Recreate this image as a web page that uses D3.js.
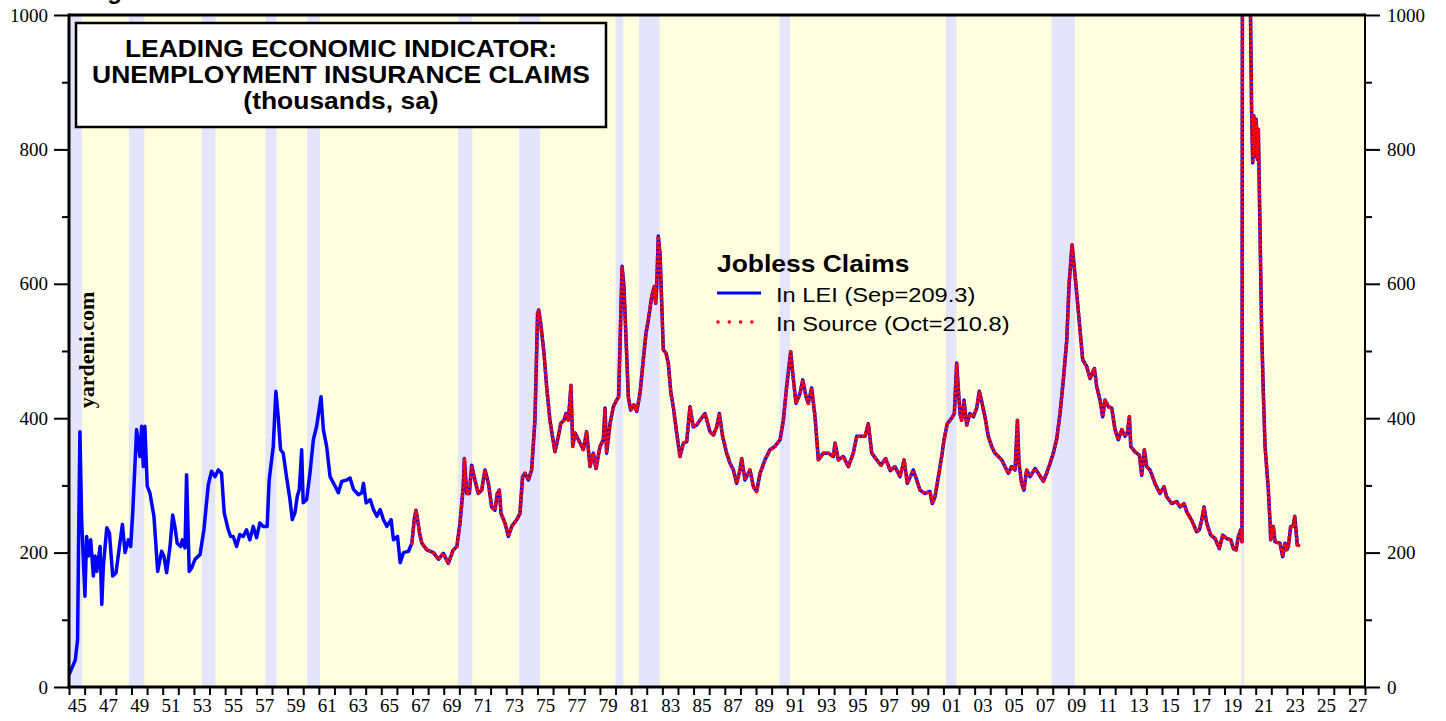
<!DOCTYPE html>
<html>
<head>
<meta charset="utf-8">
<script src="https://cdnjs.cloudflare.com/ajax/libs/d3/7.8.5/d3.min.js"></script>
<style>
body { margin: 0; background: #fff; }
.sans { font-family: "Liberation Sans", Arial, sans-serif; }
</style>
</head>
<body>
<svg id="chart" width="1446" height="721"></svg>
<script>

// decimal year / claims (thousands)
var dates = [
  1945.00,1945.40,1945.55,1945.62,1945.70,1945.81,1946.02,1946.13,1946.24,1946.39,1946.56,1946.67,1946.78,1946.99,
  1947.10,1947.20,1947.42,1947.59,1947.80,1948.01,1948.23,1948.42,1948.59,1948.80,1948.95,1949.08,1949.33,1949.54,
  1949.65,1949.76,1949.86,1950.01,1950.18,1950.44,1950.68,1950.93,1951.08,1951.25,1951.47,1951.64,1951.78,1951.93,
  1952.15,1952.26,1952.43,1952.53,1952.70,1952.85,1953.07,1953.39,1953.64,1953.92,1954.13,1954.35,1954.56,1954.77,
  1954.94,1955.20,1955.35,1955.52,1955.73,1955.94,1956.16,1956.37,1956.58,1956.80,1957.01,1957.22,1957.44,1957.69,
  1957.82,1958.08,1958.25,1958.40,1958.55,1958.72,1958.93,1959.15,1959.30,1959.47,1959.62,1959.75,1959.90,1960.00,
  1960.22,1960.43,1960.65,1960.86,1961.14,1961.29,1961.50,1961.72,1962.04,1962.25,1962.47,1962.79,1963.00,1963.22,
  1963.54,1963.75,1963.86,1964.03,1964.29,1964.50,1964.72,1964.93,1965.14,1965.36,1965.63,1965.78,1966.04,1966.21,
  1966.42,1966.74,1966.96,1967.11,1967.22,1967.32,1967.45,1967.60,1967.92,1968.34,1968.66,1968.97,1969.29,1969.61,
  1969.84,1970.04,1970.25,1970.32,1970.47,1970.64,1970.79,1971.00,1971.21,1971.43,1971.64,1971.86,1972.07,1972.28,
  1972.43,1972.56,1972.67,1972.92,1973.14,1973.35,1973.67,1973.88,1974.05,1974.20,1974.42,1974.63,1974.84,1975.01,
  1975.08,1975.21,1975.42,1975.59,1975.80,1976.12,1976.34,1976.49,1976.70,1976.83,1976.98,1977.15,1977.26,1977.41,
  1977.73,1977.94,1978.15,1978.37,1978.58,1978.75,1979.01,1979.22,1979.33,1979.43,1979.65,1979.86,1980.03,1980.20,
  1980.33,1980.42,1980.54,1980.67,1980.82,1980.97,1981.18,1981.36,1981.57,1981.78,1981.95,1982.10,1982.32,1982.49,
  1982.57,1982.64,1982.74,1982.85,1982.96,1983.06,1983.23,1983.38,1983.55,1983.70,1983.92,1984.13,1984.35,1984.56,
  1984.77,1984.98,1985.20,1985.41,1985.73,1986.05,1986.27,1986.48,1986.65,1986.86,1987.12,1987.33,1987.55,1987.76,
  1987.97,1988.08,1988.29,1988.61,1988.83,1989.04,1989.26,1989.57,1989.89,1990.21,1990.54,1990.75,1990.96,1991.22,
  1991.35,1991.56,1991.82,1991.99,1992.20,1992.35,1992.56,1992.78,1992.99,1993.31,1993.63,1993.95,1994.06,1994.27,
  1994.59,1994.91,1995.23,1995.45,1995.77,1995.98,1996.19,1996.41,1996.73,1997.00,1997.30,1997.60,1997.90,1998.22,
  1998.48,1998.69,1999.07,1999.29,1999.50,1999.82,2000.14,2000.29,2000.46,2000.68,2000.89,2001.04,2001.25,2001.53,
  2001.70,2001.85,2001.96,2002.06,2002.17,2002.32,2002.49,2002.70,2002.92,2003.13,2003.30,2003.45,2003.66,2003.88,
  2004.09,2004.30,2004.52,2004.73,2004.94,2005.16,2005.37,2005.59,2005.74,2005.84,2006.01,2006.16,2006.33,2006.55,
  2006.87,2007.08,2007.40,2007.61,2007.83,2008.04,2008.25,2008.47,2008.68,2008.90,2009.05,2009.24,2009.40,2009.58,
  2009.75,2009.92,2010.18,2010.39,2010.67,2010.82,2011.03,2011.20,2011.35,2011.57,2011.78,2011.99,2012.20,2012.42,
  2012.63,2012.78,2012.91,2013.00,2013.27,2013.55,2013.70,2013.87,2014.02,2014.23,2014.55,2014.87,2015.13,2015.30,
  2015.62,2015.94,2016.15,2016.41,2016.58,2016.90,2017.22,2017.39,2017.54,2017.69,2017.86,2018.12,2018.40,2018.67,
  2018.89,2019.14,2019.40,2019.57,2019.74,2019.89,2020.04,2020.12,2020.20,2020.28,2020.37,2020.45,2020.53,2020.62,
  2020.74,2020.81,2020.88,2020.96,2021.03,2021.11,2021.17,2021.28,2021.38,2021.49,2021.60,2021.81,2021.92,2021.96,
  2022.13,2022.24,2022.56,2022.73,2022.88,2022.99,2023.09,2023.24,2023.40,2023.50,2023.58,2023.67
]
var claims = [
  18,40,70,230,380,249,135,224,195,219,165,195,172,209,
  123,180,237,229,165,170,209,242,200,219,209,259,383,343,
  388,328,388,299,289,254,172,202,195,170,209,256,239,214,
  209,219,207,316,172,177,190,197,234,301,321,313,323,318,
  259,234,224,224,209,227,224,234,219,239,222,244,239,239,
  308,358,440,402,353,348,313,279,249,259,284,294,353,274,
  279,318,368,388,432,383,358,313,299,289,306,308,311,294,
  286,289,303,274,279,264,254,264,249,239,249,219,224,185,
  200,202,214,249,263,250,229,214,204,200,190,199,184,204,
  209,244,298,340,288,288,330,308,288,293,323,303,268,263,
  288,293,258,244,224,239,249,258,313,318,308,323,397,556,
  561,541,497,447,397,350,373,392,397,407,397,449,358,378,
  363,353,380,328,348,325,358,368,415,348,392,417,425,432,
  546,626,596,521,432,412,420,410,437,487,526,546,581,596,
  571,596,671,645,571,502,497,482,437,417,378,343,363,365,
  417,387,390,397,407,380,375,387,407,373,348,333,323,303,
  323,340,308,323,298,291,318,338,353,358,368,397,447,499,
  467,422,437,457,432,422,445,402,338,348,348,343,363,338,
  343,328,348,373,373,373,392,348,338,330,340,322,328,313,
  338,303,323,308,293,288,291,273,283,313,343,368,392,400,
  407,482,442,407,397,427,390,407,402,415,440,425,402,373,
  358,348,343,338,328,318,328,323,397,333,303,293,323,313,
  325,318,306,318,333,348,368,407,457,516,600,658,620,575,
  531,487,477,459,474,447,427,402,427,417,415,383,368,383,
  373,378,402,358,350,345,315,353,328,323,303,288,298,283,
  273,276,268,273,261,248,231,234,248,268,244,226,221,206,
  226,221,219,206,204,224,234,216,2500,5000,2400,1500,1400,1100,
  854,780,850,790,845,785,830,675,531,437,358,293,244,219,
  239,216,214,194,214,204,209,239,239,254,234,209.3
]

// the source series follows the LEI one from late 1966 and runs one month longer
var sourceStart = 1966.9
var sourceLastDate = 2023.75
var sourceLastValue = 210.8

var recessionStart = [1945.08, 1948.83, 1953.50, 1957.58, 1960.25, 1969.92, 1973.83, 1980.00, 1981.50, 1990.50, 2001.17, 2007.92, 2020.08]
var recessionEnd   = [1945.83, 1949.83, 1954.38, 1958.29, 1961.08, 1970.83, 1975.17, 1980.50, 1982.83, 1991.17, 2001.83, 2009.42, 2020.25]

var firstYear = 1945, lastYear = 2028
var yMajor = [0, 200, 400, 600, 800, 1000]
var yMinor = [100, 300, 500, 700, 900]

var titleLines = ["LEADING ECONOMIC INDICATOR:", "UNEMPLOYMENT INSURANCE CLAIMS", "(thousands, sa)"]
var legendTitle = "Jobless Claims"
var legendLabels = ["In LEI (Sep=209.3)", "In Source (Oct=210.8)"]

var svg = d3.select("#chart")

var x = d3.scaleLinear().domain([firstYear, lastYear]).range([69, 1365])
var y = d3.scaleLinear().domain([0, 1000]).range([687, 15])

var lei = dates.map(function(d, i){ return {t: d, v: claims[i]} })
var source = lei.filter(function(d){ return d.t >= sourceStart })
source.push({t: sourceLastDate, v: sourceLastValue})

// the lettering in the original is a bit wide, so text gets stretched sideways
var stretch = 1.15

// header text that sits above the page, only its descender shows
svg.append("text").attr("class", "sans")
    .attr("x", 86).attr("y", -1)
    .attr("font-size", 24).attr("font-weight", "bold")
    .text("Figure 1.")

// plot background and recession bands
svg.append("rect")
    .attr("x", x(firstYear)).attr("y", y(1000))
    .attr("width", x(lastYear) - x(firstYear)).attr("height", y(0) - y(1000))
    .attr("fill", "#ffffe0")

svg.selectAll(".rec").data(recessionStart).enter().append("rect")
    .attr("class", "rec")
    .attr("x", function(d){ return x(d) })
    .attr("width", function(d, i){ return x(recessionEnd[i]) - x(d) })
    .attr("y", y(1000)).attr("height", y(0) - y(1000))
    .attr("fill", "#e4e4fa")

svg.append("clipPath").attr("id", "plotclip").append("rect")
    .attr("x", x(firstYear)).attr("y", y(1000))
    .attr("width", x(lastYear) - x(firstYear)).attr("height", y(0) - y(1000))

var valueLine = d3.line()
    .x(function(d){ return x(d.t) })
    .y(function(d){ return y(d.v) })

var lines = svg.append("g").attr("clip-path", "url(#plotclip)")
lines.append("path")
    .datum(lei)
    .attr("fill", "none")
    .attr("stroke", "#0000ff")
    .attr("stroke-width", 3.5)
    .attr("stroke-linejoin", "round")
    .attr("d", valueLine)
lines.append("path")
    .datum(source)
    .attr("fill", "none")
    .attr("stroke", "#ff0000")
    .attr("stroke-width", 3.8)
    .attr("stroke-linecap", "round")
    .attr("stroke-dasharray", "0,4.6")
    .attr("d", valueLine)

// axes
var years = d3.range(firstYear, lastYear + 1)
var labelYears = d3.range(firstYear, lastYear, 2).map(function(d){ return d + 0.5 })

function styleAxis(g){
    g.select(".domain").remove()
    g.selectAll(".tick line").attr("stroke", "#000").attr("stroke-width", 2)
    g.selectAll(".tick text")
        .attr("font-family", "'Liberation Serif', 'Times New Roman', serif")
        .attr("font-size", 19)
        .attr("fill", "#000")
}

svg.append("g").attr("transform", "translate(0," + y(0) + ")")
    .call(d3.axisBottom(x).tickValues(years).tickSize(8).tickFormat(""))
    .call(styleAxis)
svg.append("g").attr("transform", "translate(0," + y(0) + ")")
    .call(d3.axisBottom(x).tickValues(labelYears).tickSize(0).tickPadding(12)
        .tickFormat(function(d){ return d3.format("02d")(Math.floor(d) % 100) }))
    .call(styleAxis)

svg.append("g").attr("transform", "translate(" + x(firstYear) + ",0)")
    .call(d3.axisLeft(y).tickValues(yMajor).tickSize(15).tickPadding(6).tickFormat(d3.format("d")))
    .call(styleAxis)
svg.append("g").attr("transform", "translate(" + x(firstYear) + ",0)")
    .call(d3.axisLeft(y).tickValues(yMinor).tickSize(7).tickFormat(""))
    .call(styleAxis)
svg.append("g").attr("transform", "translate(" + x(lastYear) + ",0)")
    .call(d3.axisRight(y).tickValues(yMajor).tickSize(15).tickPadding(7).tickFormat(d3.format("d")))
    .call(styleAxis)
svg.append("g").attr("transform", "translate(" + x(lastYear) + ",0)")
    .call(d3.axisRight(y).tickValues(yMinor).tickSize(7).tickFormat(""))
    .call(styleAxis)

// frame
svg.append("line").attr("x1", x(firstYear)).attr("x2", x(lastYear)).attr("y1", y(1000)).attr("y2", y(1000))
    .attr("stroke", "#000").attr("stroke-width", 3)
svg.append("line").attr("x1", x(firstYear) - 1.5).attr("x2", x(lastYear)).attr("y1", y(0)).attr("y2", y(0))
    .attr("stroke", "#000").attr("stroke-width", 3)
svg.append("line").attr("x1", x(firstYear)).attr("x2", x(firstYear)).attr("y1", y(1000) - 1.5).attr("y2", y(0) + 1.5)
    .attr("stroke", "#000").attr("stroke-width", 3)
svg.append("line").attr("x1", x(lastYear)).attr("x2", x(lastYear)).attr("y1", y(1000) - 1.5).attr("y2", y(0) + 1.5)
    .attr("stroke", "#000").attr("stroke-width", 2)

// title box
svg.append("rect")
    .attr("x", 76).attr("y", 23).attr("width", 530).attr("height", 104)
    .attr("fill", "#fff").attr("stroke", "#000").attr("stroke-width", 2.5)
svg.selectAll(".title").data(titleLines).enter().append("text")
    .attr("class", "title sans")
    .attr("transform", function(d, i){ return "translate(341," + (57 + i * 26) + ") scale(" + stretch + ",1)" })
    .attr("text-anchor", "middle")
    .attr("font-size", 23).attr("font-weight", "bold")
    .text(function(d){ return d })

// watermark
svg.append("text")
    .attr("transform", "translate(94,350) rotate(-90)")
    .attr("text-anchor", "middle")
    .attr("font-family", "'Liberation Serif', 'Times New Roman', serif")
    .attr("font-size", 22).attr("font-weight", "bold")
    .text("yardeni.com")

// legend
var legend = svg.append("g")
legend.append("text").attr("class", "sans")
    .attr("transform", "translate(717,272) scale(" + stretch + ",1)")
    .attr("font-size", 23).attr("font-weight", "bold")
    .text(legendTitle)
legend.append("line")
    .attr("x1", 717).attr("x2", 761).attr("y1", 293).attr("y2", 293)
    .attr("stroke", "#0000ff").attr("stroke-width", 3)
legend.append("line")
    .attr("x1", 718).attr("x2", 752).attr("y1", 322).attr("y2", 322)
    .attr("stroke", "#ff0000").attr("stroke-width", 3.6)
    .attr("stroke-linecap", "round").attr("stroke-dasharray", "0,11.3")
legend.selectAll(".item").data(legendLabels).enter().append("text")
    .attr("class", "item sans")
    .attr("transform", function(d, i){ return "translate(776," + (302 + i * 29) + ") scale(" + stretch + ",1)" })
    .attr("font-size", 20.6)
    .text(function(d){ return d })

</script>
</body>
</html>
